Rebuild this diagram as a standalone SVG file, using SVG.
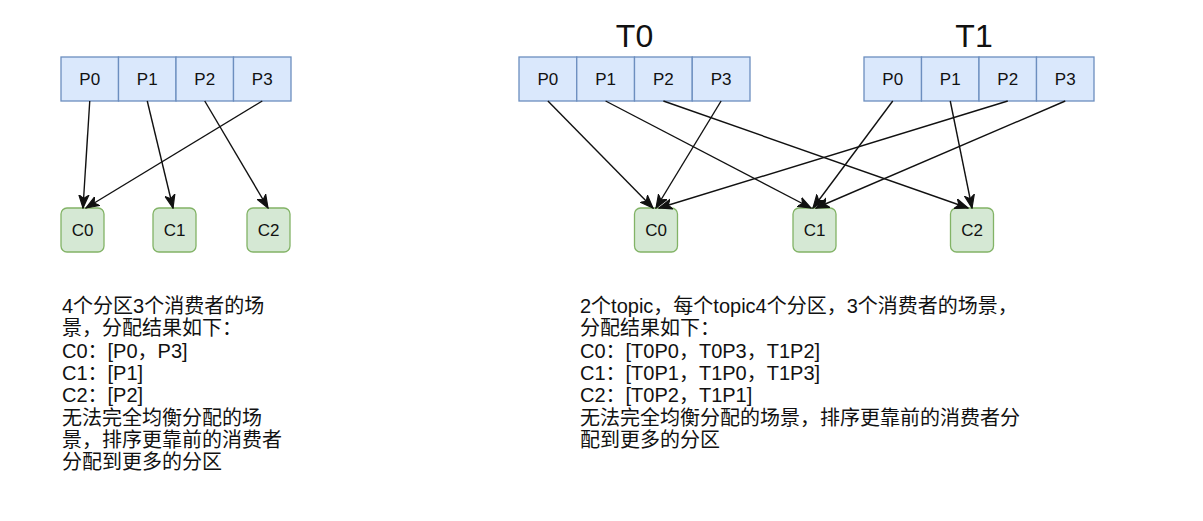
<svg xmlns="http://www.w3.org/2000/svg" width="1203" height="521" viewBox="0 0 1203 521">
<defs>
<style>
.p{fill:#dae8fc;stroke:#6c8ebf;stroke-width:1.3}
.c{fill:#d5e8d4;stroke:#82b366;stroke-width:1.3}
.lb{font-family:"Liberation Sans","Noto Sans CJK SC",sans-serif;font-size:17px;fill:#111;text-anchor:middle}
.tt{font-family:"Liberation Sans","Noto Sans CJK SC",sans-serif;font-size:32px;fill:#111;text-anchor:middle}
.tx{font-family:"Liberation Sans","Noto Sans CJK SC",sans-serif;font-size:20px;fill:#111}
.e{stroke:#111;stroke-width:1.4;fill:none;marker-end:url(#ah)}
</style>
<marker id="ah" markerUnits="userSpaceOnUse" markerWidth="14" markerHeight="12" viewBox="0 0 14 12" refX="13" refY="6" orient="auto">
<path d="M0,1 L13,6 L0,11 L3.5,6 Z" fill="#111" stroke="#111" stroke-width="1.2" stroke-linejoin="miter"/>
</marker>
</defs>
<rect width="1203" height="521" fill="#fff"/>

<g id="left-partitions">
<g id="L-P0"><rect class="p" x="61" y="57" width="57.5" height="44"/><text class="lb" x="89.75" y="85">P0</text></g>
<g id="L-P1"><rect class="p" x="118.5" y="57" width="57.5" height="44"/><text class="lb" x="147.25" y="85">P1</text></g>
<g id="L-P2"><rect class="p" x="176" y="57" width="57.5" height="44"/><text class="lb" x="204.75" y="85">P2</text></g>
<g id="L-P3"><rect class="p" x="233.5" y="57" width="57.5" height="44"/><text class="lb" x="262.25" y="85">P3</text></g>
</g>

<g id="L-C0"><rect class="c" x="61" y="208" width="43" height="44" rx="6"/><text class="lb" x="82.5" y="236">C0</text></g>
<g id="L-C1"><rect class="c" x="153" y="208" width="43" height="44" rx="6"/><text class="lb" x="174.5" y="236">C1</text></g>
<g id="L-C2"><rect class="c" x="247" y="208" width="43" height="44" rx="6"/><text class="lb" x="268.5" y="236">C2</text></g>

<g id="T0-label"><text class="tt" x="634.5" y="47">T0</text></g>
<g id="T1-label"><text class="tt" x="974" y="47">T1</text></g>

<g id="T0-partitions">
<g id="T0-P0"><rect class="p" x="519" y="57" width="57.75" height="44"/><text class="lb" x="547.9" y="85">P0</text></g>
<g id="T0-P1"><rect class="p" x="576.75" y="57" width="57.75" height="44"/><text class="lb" x="605.6" y="85">P1</text></g>
<g id="T0-P2"><rect class="p" x="634.5" y="57" width="57.75" height="44"/><text class="lb" x="663.4" y="85">P2</text></g>
<g id="T0-P3"><rect class="p" x="692.25" y="57" width="57.75" height="44"/><text class="lb" x="721.1" y="85">P3</text></g>
</g>
<g id="T1-partitions">
<g id="T1-P0"><rect class="p" x="864" y="57" width="57.5" height="44"/><text class="lb" x="892.75" y="85">P0</text></g>
<g id="T1-P1"><rect class="p" x="921.5" y="57" width="57.5" height="44"/><text class="lb" x="950.25" y="85">P1</text></g>
<g id="T1-P2"><rect class="p" x="979" y="57" width="57.5" height="44"/><text class="lb" x="1007.75" y="85">P2</text></g>
<g id="T1-P3"><rect class="p" x="1036.5" y="57" width="57.5" height="44"/><text class="lb" x="1065.25" y="85">P3</text></g>
</g>

<g id="R-C0"><rect class="c" x="634.5" y="208" width="43" height="44" rx="6"/><text class="lb" x="656" y="236">C0</text></g>
<g id="R-C1"><rect class="c" x="793" y="208" width="43" height="44" rx="6"/><text class="lb" x="814.5" y="236">C1</text></g>
<g id="R-C2"><rect class="c" x="950.5" y="208" width="43" height="44" rx="6"/><text class="lb" x="972" y="236">C2</text></g>

<g id="connectors">
<line class="e" x1="89.75" y1="101" x2="83" y2="208"/>
<line class="e" x1="147.25" y1="101" x2="173" y2="208"/>
<line class="e" x1="204.75" y1="101" x2="268" y2="208"/>
<line class="e" x1="262.25" y1="101" x2="86" y2="208"/>

<line class="e" x1="547.9" y1="101" x2="653" y2="208"/>
<line class="e" x1="605.6" y1="101" x2="811" y2="208"/>
<line class="e" x1="663.4" y1="101" x2="968" y2="208"/>
<line class="e" x1="721.1" y1="101" x2="656" y2="208"/>
<line class="e" x1="892.75" y1="101" x2="813" y2="208"/>
<line class="e" x1="950.25" y1="101" x2="972" y2="208"/>
<line class="e" x1="1007.75" y1="101" x2="659" y2="208"/>
<line class="e" x1="1065.25" y1="101" x2="816" y2="208"/>
</g>

<g id="left-note">
<text class="tx" x="62" y="313">4个分区3个消费者的场</text>
<text class="tx" x="62" y="335.3">景，分配结果如下：</text>
<text class="tx" x="62" y="357.6">C0：[P0，P3]</text>
<text class="tx" x="62" y="379.9">C1：[P1]</text>
<text class="tx" x="62" y="402.2">C2：[P2]</text>
<text class="tx" x="62" y="424.5">无法完全均衡分配的场</text>
<text class="tx" x="62" y="446.8">景，排序更靠前的消费者</text>
<text class="tx" x="62" y="469.1">分配到更多的分区</text>
</g>

<g id="right-note">
<text class="tx" x="580" y="313">2个topic，每个topic4个分区，3个消费者的场景，</text>
<text class="tx" x="580" y="335.3">分配结果如下：</text>
<text class="tx" x="580" y="357.6">C0：[T0P0，T0P3，T1P2]</text>
<text class="tx" x="580" y="379.9">C1：[T0P1，T1P0，T1P3]</text>
<text class="tx" x="580" y="402.2">C2：[T0P2，T1P1]</text>
<text class="tx" x="580" y="424.5">无法完全均衡分配的场景，排序更靠前的消费者分</text>
<text class="tx" x="580" y="446.8">配到更多的分区</text>
</g>
</svg>
